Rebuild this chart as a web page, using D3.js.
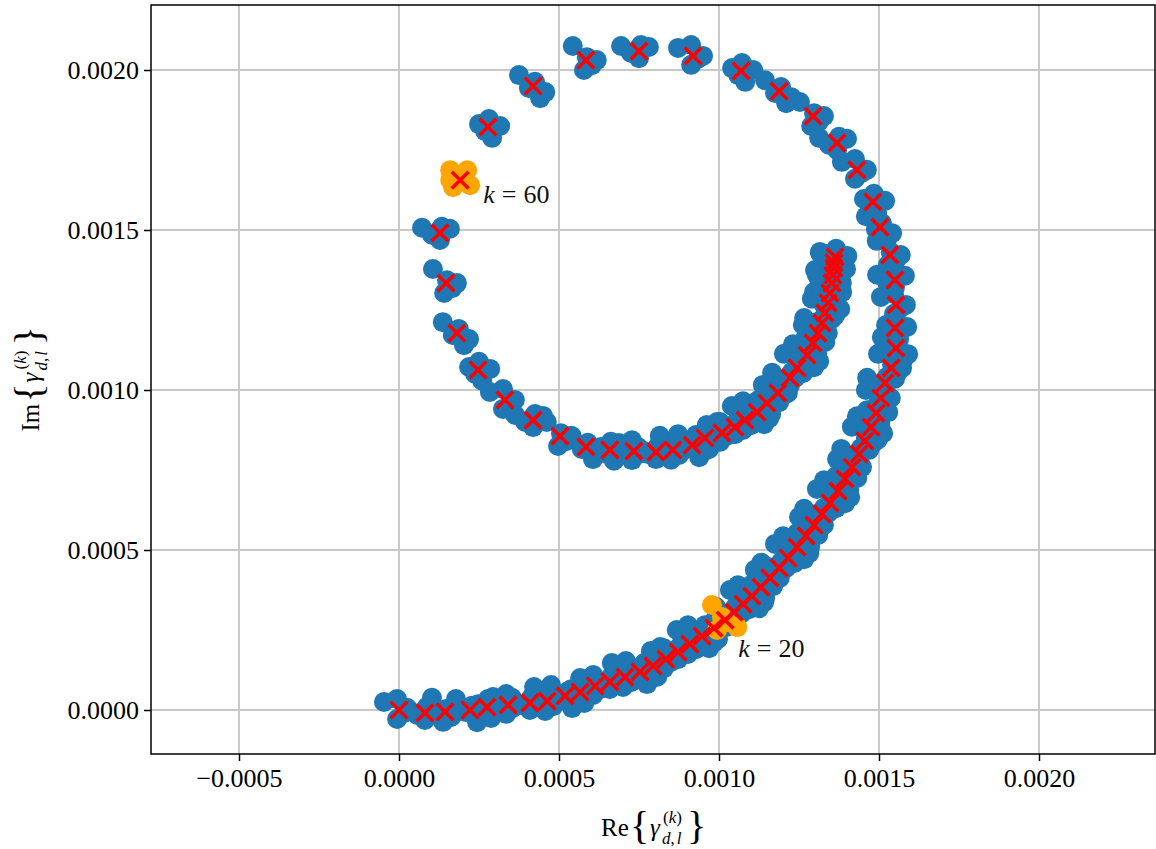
<!DOCTYPE html>
<html>
<head>
<meta charset="utf-8">
<script src="https://cdn.jsdelivr.net/npm/d3@7"></script>
<style>
  body { margin: 0; background: #fff; }
  svg { display: block; font-family: "Liberation Serif", "Times New Roman", serif; }
</style>
</head>
<body>
<div id="chart"></div>
<script>
// mean of gamma per frequency index k (units of 1e-4)
const meanRe = [
  0, 0.81, 1.44, 2.22, 2.75, 3.41, 4.09, 4.63, 5.19, 5.66,
  6.13, 6.59, 7.06, 7.53, 7.94, 8.34, 8.72, 9.09, 9.47, 9.84,
  10.19, 10.47, 10.75, 11.03, 11.31, 11.59, 11.88, 12.16, 12.44, 12.72,
  12.97, 13.22, 13.47, 13.72, 13.94, 14.16, 14.38, 14.56, 14.75, 14.91,
  15.06, 15.19, 15.38, 15.53, 15.50, 15.53, 15.50, 15.34, 15.03, 14.81,
  14.31, 13.69, 12.94, 11.88, 10.69, 9.19, 7.50, 5.84, 4.19, 2.78,
  1.91, 1.28, 1.47, 1.81, 2.47, 3.31, 4.19, 5.03, 5.84, 6.59,
  7.34, 8.03, 8.56, 9.16, 9.56, 10.09, 10.50, 10.81, 11.19, 11.50,
  11.84, 12.22, 12.44, 12.75, 12.94, 13.09, 13.22, 13.31, 13.41, 13.47,
  13.53, 13.56, 13.59, 13.59, 13.63
];
const meanIm = [
  0, -0.09, -0.06, 0, 0.09, 0.16, 0.22, 0.28, 0.44, 0.56,
  0.75, 0.88, 1.03, 1.19, 1.38, 1.59, 1.81, 2.06, 2.31, 2.56,
  2.81, 3.06, 3.31, 3.56, 3.84, 4.13, 4.44, 4.75, 5.09, 5.44,
  5.78, 6.13, 6.47, 6.84, 7.22, 7.59, 8.00, 8.41, 8.84, 9.28,
  9.75, 10.22, 10.69, 11.31, 11.94, 12.66, 13.44, 14.22, 15.09, 15.88,
  16.88, 17.72, 18.56, 19.34, 19.97, 20.44, 20.59, 20.31, 19.50, 18.22,
  16.56, 14.91, 13.34, 11.78, 10.63, 9.69, 9.06, 8.56, 8.22, 8.13,
  8.09, 8.06, 8.13, 8.28, 8.50, 8.66, 8.84, 9.06, 9.31, 9.59,
  9.91, 10.38, 10.69, 11.09, 11.47, 11.78, 12.09, 12.41, 12.72, 13.03,
  13.34, 13.59, 13.81, 13.97, 14.16
];

// realisation offsets around the mean (units of 1e-5)
const spreadRe = [
  [-4.7, -0.6, 3.1, -0.6, 1.6],
  [-5.6, 0.6, 3.1, 0.0, -2.5],
  [-4.1, 0.3, 3.4, -0.6, 1.9],
  [-4.4, 0.6, 3.8, 2.2, -1.3],
  [-2.8, 0.3, 3.8, 1.3, -0.9]
];
const spreadIm = [
  [2.5, 3.4, 0.0, -2.8, -0.9],
  [1.6, 1.9, 1.3, -2.2, -0.6],
  [4.4, 0.9, 0.0, -3.1, -1.6],
  [3.4, 1.3, -1.9, -3.8, -0.6],
  [0.9, 2.5, 0.3, -3.4, -1.3]
];

// highlighted indices and their realisations (units of 1e-5)
const highlightK = [20, 60];
const highlightRe = [
  [-4.1, 0.6, 3.8, -2.5, -1.0],
  [-3.1, 2.2, 3.1, -2.2, -3.1]
];
const highlightIm = [
  [4.7, -0.6, -2.2, -3.1, 1.0],
  [3.1, 3.1, -1.6, -2.2, 0.0]
];
const annotLabel = ["20", "60"];
const annotRe = [0.00106, 0.000263];
const annotIm = [0.000166, 0.001584];

const xTicks = [-0.0005, 0.0000, 0.0005, 0.0010, 0.0015, 0.0020];
const yTicks = [0.0000, 0.0005, 0.0010, 0.0015, 0.0020];
const xLimits = [-0.000775, 0.0023625];
const yLimits = [-0.0001375, 0.0022031];

const W = 1156, H = 849;
const plot = { left: 151, right: 1155, top: 5, bottom: 754 };

const svg = d3.select("#chart").append("svg")
  .attr("width", W)
  .attr("height", H);

const x = d3.scaleLinear().domain(xLimits).range([plot.left, plot.right]);
const y = d3.scaleLinear().domain(yLimits).range([plot.bottom, plot.top]);

// grid
const grid = svg.append("g").attr("stroke", "#c8c8c8").attr("stroke-width", 2);
grid.selectAll("line.gx").data(xTicks).enter().append("line")
  .attr("x1", d => x(d)).attr("x2", d => x(d))
  .attr("y1", plot.top).attr("y2", plot.bottom);
grid.selectAll("line.gy").data(yTicks).enter().append("line")
  .attr("y1", d => y(d)).attr("y2", d => y(d))
  .attr("x1", plot.left).attr("x2", plot.right);

// samples
const blue = [], orange = [];
meanRe.forEach(function(m, k) {
  const h = highlightK.indexOf(k);
  const offRe = h >= 0 ? highlightRe[h] : spreadRe[k % spreadRe.length];
  const offIm = h >= 0 ? highlightIm[h] : spreadIm[k % spreadIm.length];
  offRe.forEach(function(o, j) {
    const p = { re: m * 1e-4 + o * 1e-5, im: meanIm[k] * 1e-4 + offIm[j] * 1e-5 };
    (h >= 0 ? orange : blue).push(p);
  });
});

svg.append("g").selectAll("circle").data(blue).enter().append("circle")
  .attr("cx", d => x(d.re)).attr("cy", d => y(d.im)).attr("r", 10)
  .attr("fill", "#1f77b4");
svg.append("g").selectAll("circle").data(orange).enter().append("circle")
  .attr("cx", d => x(d.re)).attr("cy", d => y(d.im)).attr("r", 10)
  .attr("fill", "#ffa500");

// means as red crosses
const cross = d3.symbol().type(d3.symbolX).size(185);
svg.append("g").selectAll("path").data(meanRe).enter().append("path")
  .attr("d", cross)
  .attr("transform", (d, k) => "translate(" + x(d * 1e-4) + "," + y(meanIm[k] * 1e-4) + ")")
  .attr("fill", "none")
  .attr("stroke", "#ff0000")
  .attr("stroke-width", 3.5);

// annotations k = 20, k = 60
annotLabel.forEach(function(lab, i) {
  const t = svg.append("text")
    .attr("x", x(annotRe[i])).attr("y", y(annotIm[i]))
    .attr("font-size", 26).attr("fill", "#111");
  t.append("tspan").attr("font-style", "italic").text("k");
  t.append("tspan").attr("dx", 7).text("=");
  t.append("tspan").attr("dx", 7).text(lab);
});

// axes
const fmt = d3.format(".4f");
const gx = svg.append("g")
  .attr("transform", "translate(0," + plot.bottom + ")")
  .call(d3.axisBottom(x).tickValues(xTicks).tickSize(7).tickPadding(8).tickFormat(fmt));
const gy = svg.append("g")
  .attr("transform", "translate(" + plot.left + ",0)")
  .call(d3.axisLeft(y).tickValues(yTicks).tickSize(7).tickPadding(5).tickFormat(fmt));
[gx, gy].forEach(function(g) {
  g.select(".domain").remove();
  g.selectAll(".tick line").attr("stroke", "#000").attr("stroke-width", 1.5);
  g.selectAll(".tick text")
    .attr("font-family", "Liberation Serif, serif")
    .attr("font-size", 26)
    .attr("fill", "#000");
});

svg.append("rect")
  .attr("x", plot.left).attr("y", plot.top)
  .attr("width", plot.right - plot.left).attr("height", plot.bottom - plot.top)
  .attr("fill", "none").attr("stroke", "#000").attr("stroke-width", 1.5);

// axis labels: Re{gamma_{d,l}^{(k)}} and Im{...}
function mathLabel(g, name) {
  g.append("text").attr("x", 0).attr("y", 0).attr("font-size", 25).text(name);
  g.append("text").attr("x", 29).attr("y", 3).attr("font-size", 40).text("{");
  g.append("text").attr("x", 49).attr("y", 0).attr("font-size", 25)
    .attr("font-style", "italic").text("γ");
  const sup = g.append("text").attr("x", 62).attr("y", -13).attr("font-size", 17);
  sup.append("tspan").text("(");
  sup.append("tspan").attr("font-style", "italic").text("k");
  sup.append("tspan").text(")");
  const sub = g.append("text").attr("x", 61).attr("y", 8).attr("font-size", 17)
    .attr("font-style", "italic");
  sub.append("tspan").text("d");
  sub.append("tspan").attr("font-style", "normal").text(",");
  sub.append("tspan").attr("dx", 2).text("l");
  g.append("text").attr("x", 86).attr("y", 3).attr("font-size", 40).text("}");
}
const cx = (plot.left + plot.right) / 2, cy = (plot.top + plot.bottom) / 2;
mathLabel(svg.append("g").attr("transform", "translate(" + (cx - 52) + ",836)"), "Re");
mathLabel(svg.append("g").attr("transform", "translate(39," + (cy + 52) + ") rotate(-90)"), "Im");
</script>
</body>
</html>
